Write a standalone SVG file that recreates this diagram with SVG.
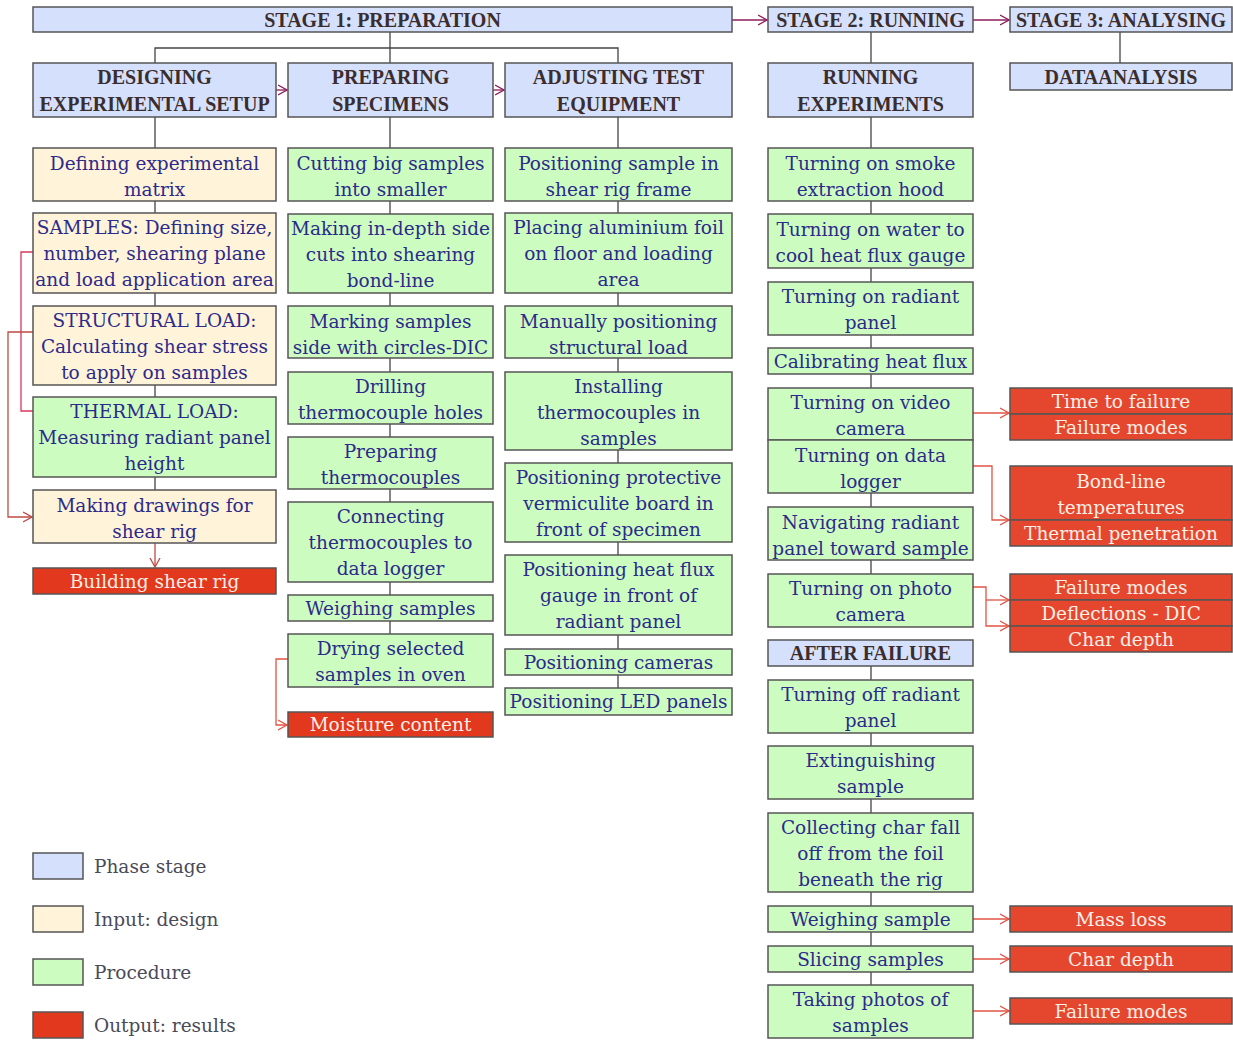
<svg xmlns="http://www.w3.org/2000/svg" width="1233" height="1040" viewBox="0 0 1233 1040">
<defs>
<style>
.b,.c,.g,.r,.rd{stroke:#555;stroke-width:1.5}
.b{fill:#d5e0fd}.c{fill:#fff3d9}.g{fill:#cdfcc0}.r{fill:#e4472e}.rd{fill:#e2381e}
text{font-family:"DejaVu Serif","Liberation Serif",serif;font-size:18.5px;fill:#2c2a8a;text-anchor:middle}
text.h{font-family:"Liberation Serif","DejaVu Serif",serif;font-weight:bold;font-size:20px;fill:#3b2d2d}
text.o{fill:#fdeee6}
text.l{text-anchor:start;fill:#4a4a58}
.k{fill:none;stroke:#444;stroke-width:1.3}
.p{fill:none;stroke:#8c1c5c;stroke-width:1.3}
.e{fill:none;stroke:#e05443;stroke-width:1.3}
.m{fill:none;stroke:#d8365c;stroke-width:1.3}
.d{fill:none;stroke:#c04a44;stroke-width:1.3}
</style>
<marker id="ap" viewBox="0 0 10 12" refX="9" refY="6" markerWidth="10" markerHeight="12" markerUnits="userSpaceOnUse" orient="auto"><path d="M0,1 L9,6 L0,11" fill="none" stroke="#8c1c5c" stroke-width="1.3"/></marker>
<marker id="ae" viewBox="0 0 10 12" refX="9" refY="6" markerWidth="10" markerHeight="12" markerUnits="userSpaceOnUse" orient="auto"><path d="M0,1 L9,6 L0,11" fill="none" stroke="#e05443" stroke-width="1.3"/></marker>
<marker id="ad" viewBox="0 0 10 12" refX="9" refY="6" markerWidth="10" markerHeight="12" markerUnits="userSpaceOnUse" orient="auto"><path d="M0,1 L9,6 L0,11" fill="none" stroke="#c04a44" stroke-width="1.3"/></marker>
</defs>
<rect x="0" y="0" width="1233" height="1040" fill="#fff"/>

<g id="connectors">
<path class="k" d="M390,32V63M155,63V48H618V63"/>
<path class="k" d="M155,117V148M155,201V213M155,293V306M155,385V397M155,477V490"/>
<path class="k" d="M390,117V148M390,201V214M390,293V306M390,358V372M390,424V437M390,489V502M390,582V595M390,621V634"/>
<path class="k" d="M618,117V148M618,201V213M618,293V306M618,358V372M618,450V463M618,542V555M618,635V649M618,675V688"/>
<path class="k" d="M871,32V63M871,117V148M871,201V214M871,268V282M871,335V348M871,374V388M871,493V507M871,560V574M871,666V680M871,733V746M871,799V813M871,892V906M871,932V946M871,972V985"/>
<path class="k" d="M1120,32V63"/>
<path class="p" d="M732,20H767" marker-end="url(#ap)"/>
<path class="p" d="M973,20H1009" marker-end="url(#ap)"/>
<path class="p" d="M276,90H287" marker-end="url(#ap)"/>
<path class="p" d="M493,90H504" marker-end="url(#ap)"/>
<path class="m" d="M33,252H21V411H33"/>
<path class="d" d="M33,332H8V517H32" marker-end="url(#ad)"/>
<path class="d" d="M155,543V567" marker-end="url(#ad)"/>
<path class="e" d="M288,659H276V725H287" marker-end="url(#ae)"/>
<path class="e" d="M973,413H1009" marker-end="url(#ae)"/>
<path class="e" d="M973,466H992V520H1009" marker-end="url(#ae)"/>
<path class="e" d="M973,587H986V626H1009" marker-end="url(#ae)"/>
<path class="e" d="M986,600H1009" marker-end="url(#ae)"/>
<path class="e" d="M973,919H1009" marker-end="url(#ae)"/>
<path class="e" d="M973,959H1009" marker-end="url(#ae)"/>
<path class="e" d="M973,1011H1009" marker-end="url(#ae)"/>
</g>

<g id="stage1"><rect class="b" x="33" y="7" width="699" height="25"/><text class="h" x="382.5" y="26.5">STAGE 1: PREPARATION</text></g>
<g id="stage2"><rect class="b" x="768" y="7" width="205" height="25"/><text class="h" x="870.5" y="26.5">STAGE 2: RUNNING</text></g>
<g id="stage3"><rect class="b" x="1010" y="7" width="222" height="25"/><text class="h" x="1121" y="26.5">STAGE 3: ANALYSING</text></g>
<g id="designing"><rect class="b" x="33" y="63" width="243" height="54"/><text class="h" x="154.5" y="84">DESIGNING<tspan x="154.5" y="111">EXPERIMENTAL SETUP</tspan></text></g>
<g id="preparing"><rect class="b" x="288" y="63" width="205" height="54"/><text class="h" x="390.5" y="84">PREPARING<tspan x="390.5" y="111">SPECIMENS</tspan></text></g>
<g id="adjusting"><rect class="b" x="505" y="63" width="227" height="54"/><text class="h" x="618.5" y="84">ADJUSTING TEST<tspan x="618.5" y="111">EQUIPMENT</tspan></text></g>
<g id="running"><rect class="b" x="768" y="63" width="205" height="54"/><text class="h" x="870.5" y="84">RUNNING<tspan x="870.5" y="111">EXPERIMENTS</tspan></text></g>
<g id="dataanalysis"><rect class="b" x="1010" y="63" width="222" height="27"/><text class="h" x="1121" y="83.5">DATAANALYSIS</text></g>

<g id="matrix"><rect class="c" x="33" y="148" width="243" height="53"/><text x="154.5" y="169.5">Defining experimental<tspan x="154.5" y="195.5">matrix</tspan></text></g>
<g id="samples"><rect class="c" x="33" y="213" width="243" height="80"/><text x="154.5" y="233.5">SAMPLES: Defining size,<tspan x="154.5" y="259.5">number, shearing plane</tspan><tspan x="154.5" y="285.5">and load application area</tspan></text></g>
<g id="structural"><rect class="c" x="33" y="306" width="243" height="79"/><text x="154.5" y="326.5">STRUCTURAL LOAD:<tspan x="154.5" y="352.5">Calculating shear stress</tspan><tspan x="154.5" y="378.5">to apply on samples</tspan></text></g>
<g id="thermal"><rect class="g" x="33" y="397" width="243" height="80"/><text x="154.5" y="417.5">THERMAL LOAD:<tspan x="154.5" y="443.5">Measuring radiant panel</tspan><tspan x="154.5" y="469.5">height</tspan></text></g>
<g id="drawings"><rect class="c" x="33" y="490" width="243" height="53"/><text x="154.5" y="511.5">Making drawings for<tspan x="154.5" y="537.5">shear rig</tspan></text></g>
<g id="buildrig"><rect class="rd" x="33" y="568" width="243" height="26"/><text class="o" x="154.5" y="588">Building shear rig</text></g>

<g id="cutting"><rect class="g" x="288" y="148" width="205" height="53"/><text x="390.5" y="169.5">Cutting big samples<tspan x="390.5" y="195.5">into smaller</tspan></text></g>
<g id="sidecuts"><rect class="g" x="288" y="214" width="205" height="79"/><text x="390.5" y="234.5">Making in-depth side<tspan x="390.5" y="260.5">cuts into shearing</tspan><tspan x="390.5" y="286.5">bond-line</tspan></text></g>
<g id="marking"><rect class="g" x="288" y="306" width="205" height="52"/><text x="390.5" y="327.5">Marking samples<tspan x="390.5" y="353.5">side with circles-DIC</tspan></text></g>
<g id="drilling"><rect class="g" x="288" y="372" width="205" height="52"/><text x="390.5" y="392.5">Drilling<tspan x="390.5" y="418.5">thermocouple holes</tspan></text></g>
<g id="preptc"><rect class="g" x="288" y="437" width="205" height="52"/><text x="390.5" y="457.5">Preparing<tspan x="390.5" y="483.5">thermocouples</tspan></text></g>
<g id="connecting"><rect class="g" x="288" y="502" width="205" height="80"/><text x="390.5" y="522.5">Connecting<tspan x="390.5" y="548.5">thermocouples to</tspan><tspan x="390.5" y="574.5">data logger</tspan></text></g>
<g id="weighing"><rect class="g" x="288" y="595" width="205" height="26"/><text x="390.5" y="615">Weighing samples</text></g>
<g id="drying"><rect class="g" x="288" y="634" width="205" height="53"/><text x="390.5" y="654.5">Drying selected<tspan x="390.5" y="680.5">samples in oven</tspan></text></g>
<g id="moisture"><rect class="rd" x="288" y="712" width="205" height="25"/><text class="o" x="390.5" y="731">Moisture content</text></g>

<g id="possample"><rect class="g" x="505" y="148" width="227" height="53"/><text x="618.5" y="169.5">Positioning sample in<tspan x="618.5" y="195.5">shear rig frame</tspan></text></g>
<g id="foil"><rect class="g" x="505" y="213" width="227" height="80"/><text x="618.5" y="233.5">Placing aluminium foil<tspan x="618.5" y="259.5">on floor and loading</tspan><tspan x="618.5" y="285.5">area</tspan></text></g>
<g id="manual"><rect class="g" x="505" y="306" width="227" height="52"/><text x="618.5" y="327.5">Manually positioning<tspan x="618.5" y="353.5">structural load</tspan></text></g>
<g id="installing"><rect class="g" x="505" y="372" width="227" height="78"/><text x="618.5" y="392.5">Installing<tspan x="618.5" y="418.5">thermocouples in</tspan><tspan x="618.5" y="444.5">samples</tspan></text></g>
<g id="protective"><rect class="g" x="505" y="463" width="227" height="79"/><text x="618.5" y="483.5">Positioning protective<tspan x="618.5" y="509.5">vermiculite board in</tspan><tspan x="618.5" y="535.5">front of specimen</tspan></text></g>
<g id="fluxgauge"><rect class="g" x="505" y="555" width="227" height="80"/><text x="618.5" y="575.5">Positioning heat flux<tspan x="618.5" y="601.5">gauge in front of</tspan><tspan x="618.5" y="627.5">radiant panel</tspan></text></g>
<g id="cameras"><rect class="g" x="505" y="649" width="227" height="26"/><text x="618.5" y="669">Positioning cameras</text></g>
<g id="led"><rect class="g" x="505" y="688" width="227" height="27"/><text x="618.5" y="708">Positioning LED panels</text></g>

<g id="smoke"><rect class="g" x="768" y="148" width="205" height="53"/><text x="870.5" y="169.5">Turning on smoke<tspan x="870.5" y="195.5">extraction hood</tspan></text></g>
<g id="water"><rect class="g" x="768" y="214" width="205" height="54"/><text x="870.5" y="235.5">Turning on water to<tspan x="870.5" y="261.5">cool heat flux gauge</tspan></text></g>
<g id="radiant"><rect class="g" x="768" y="282" width="205" height="53"/><text x="870.5" y="302.5">Turning on radiant<tspan x="870.5" y="328.5">panel</tspan></text></g>
<g id="calibrating"><rect class="g" x="768" y="348" width="205" height="26"/><text x="870.5" y="367.5">Calibrating heat flux</text></g>
<g id="video"><rect class="g" x="768" y="388" width="205" height="52"/><text x="870.5" y="408.5">Turning on video<tspan x="870.5" y="434.5">camera</tspan></text></g>
<g id="logger"><rect class="g" x="768" y="440" width="205" height="53"/><text x="870.5" y="461.5">Turning on data<tspan x="870.5" y="487.5">logger</tspan></text></g>
<g id="navigating"><rect class="g" x="768" y="507" width="205" height="53"/><text x="870.5" y="528.5">Navigating radiant<tspan x="870.5" y="554.5">panel toward sample</tspan></text></g>
<g id="photo"><rect class="g" x="768" y="574" width="205" height="53"/><text x="870.5" y="594.5">Turning on photo<tspan x="870.5" y="620.5">camera</tspan></text></g>
<g id="afterfailure"><rect class="b" x="768" y="640" width="205" height="26"/><text class="h" x="870.5" y="659.5">AFTER FAILURE</text></g>
<g id="turnoff"><rect class="g" x="768" y="680" width="205" height="53"/><text x="870.5" y="700.5">Turning off radiant<tspan x="870.5" y="726.5">panel</tspan></text></g>
<g id="extinguish"><rect class="g" x="768" y="746" width="205" height="53"/><text x="870.5" y="766.5">Extinguishing<tspan x="870.5" y="792.5">sample</tspan></text></g>
<g id="collecting"><rect class="g" x="768" y="813" width="205" height="79"/><text x="870.5" y="833.5">Collecting char fall<tspan x="870.5" y="859.5">off from the foil</tspan><tspan x="870.5" y="885.5">beneath the rig</tspan></text></g>
<g id="weighsample"><rect class="g" x="768" y="906" width="205" height="26"/><text x="870.5" y="926">Weighing sample</text></g>
<g id="slicing"><rect class="g" x="768" y="946" width="205" height="26"/><text x="870.5" y="966">Slicing samples</text></g>
<g id="photos"><rect class="g" x="768" y="985" width="205" height="53"/><text x="870.5" y="1005.5">Taking photos of<tspan x="870.5" y="1031.5">samples</tspan></text></g>

<g id="timefail"><rect class="r" x="1010" y="388" width="222" height="26"/><text class="o" x="1121" y="408">Time to failure</text></g>
<g id="failmodes1"><rect class="r" x="1010" y="414" width="222" height="26"/><text class="o" x="1121" y="434">Failure modes</text></g>
<g id="bondline"><rect class="r" x="1010" y="466" width="222" height="54"/><text class="o" x="1121" y="487.5">Bond-line<tspan x="1121" y="513.5">temperatures</tspan></text></g>
<g id="thermpen"><rect class="r" x="1010" y="520" width="222" height="26"/><text class="o" x="1121" y="540">Thermal penetration</text></g>
<g id="failmodes2"><rect class="r" x="1010" y="574" width="222" height="26"/><text class="o" x="1121" y="594">Failure modes</text></g>
<g id="deflections"><rect class="r" x="1010" y="600" width="222" height="26"/><text class="o" x="1121" y="620">Deflections - DIC</text></g>
<g id="chardepth1"><rect class="r" x="1010" y="626" width="222" height="26"/><text class="o" x="1121" y="646">Char depth</text></g>
<g id="massloss"><rect class="r" x="1010" y="906" width="222" height="26"/><text class="o" x="1121" y="926">Mass loss</text></g>
<g id="chardepth2"><rect class="r" x="1010" y="946" width="222" height="26"/><text class="o" x="1121" y="966">Char depth</text></g>
<g id="failmodes3"><rect class="r" x="1010" y="998" width="222" height="26"/><text class="o" x="1121" y="1018">Failure modes</text></g>

<g id="legend">
<rect class="b" x="33" y="853" width="50" height="26"/><text class="l" x="94" y="873">Phase stage</text>
<rect class="c" x="33" y="906" width="50" height="26"/><text class="l" x="94" y="926">Input: design</text>
<rect class="g" x="33" y="959" width="50" height="26"/><text class="l" x="94" y="979">Procedure</text>
<rect class="rd" x="33" y="1012" width="50" height="26"/><text class="l" x="94" y="1032">Output: results</text>
</g>
</svg>
